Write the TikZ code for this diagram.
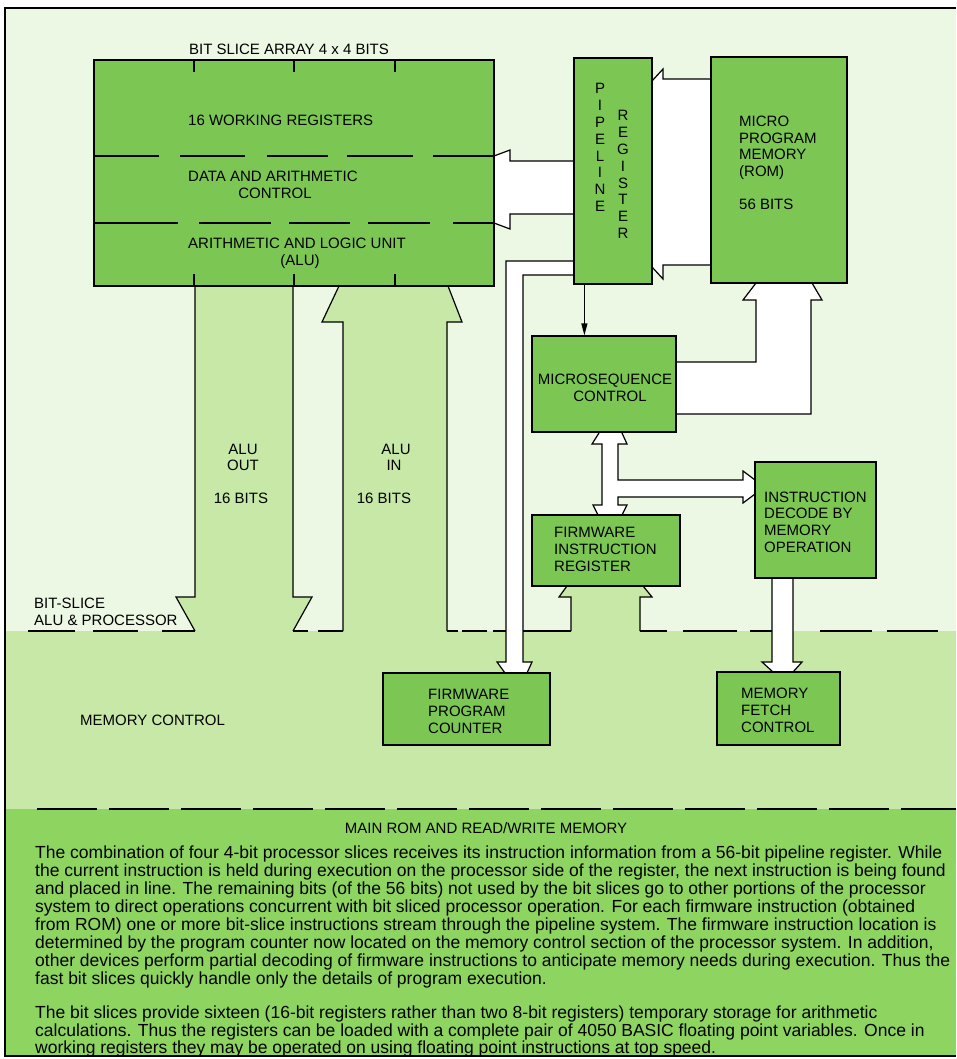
\documentclass[tikz,border=0pt]{standalone}
\usepackage{fontspec}
\setmainfont{Liberation Sans}
\usetikzlibrary{arrows.meta}
\definecolor{topc}{RGB}{237,248,228}
\definecolor{midc}{RGB}{199,232,166}
\definecolor{botc}{RGB}{142,212,96}
\definecolor{boxc}{RGB}{124,199,84}
\begin{document}
\begin{tikzpicture}[x=1pt,y=-1pt,
  box/.style={draw=black,fill=boxc,line width=1.2pt,inner sep=0pt},
  lbl/.style={font=\fontsize{15}{17}\selectfont,inner sep=0pt,anchor=base},
  lbll/.style={font=\fontsize{15}{17}\selectfont,inner sep=0pt,anchor=base west},
  body/.style={font=\fontsize{17.5}{18}\selectfont,inner sep=0pt,anchor=base west},
  ol/.style={line width=1.2pt,line join=miter},
  dl/.style={line width=1.3pt},
  wa/.style={fill=white},
  ma/.style={fill=midc}]
\useasboundingbox (0,0) rectangle (956,1059);
\fill[white] (0,0) rectangle (956,1059);
\fill[topc] (5,8) rectangle (956,631);
\fill[midc] (5,631) rectangle (956,809);
\fill[botc] (5,809) rectangle (956,1056);

% medium-filled block arrows
\fill[ma] (195,286) -- (293,286) -- (293,597) -- (312,597) -- (293,631) -- (195,631) -- (176,597) -- (195,597) -- cycle;
\fill[ma] (343,631) -- (447,631) -- (447,322) -- (462,322) -- (448,286) -- (339,286) -- (322,322) -- (343,322) -- cycle;
\fill[ma] (571,631) -- (571,597) -- (559,597) -- (567,586) -- (643,586) -- (652,597) -- (640,597) -- (640,631) -- cycle;

% white block arrows
\fill[wa] (711,79) -- (663,79) -- (663,69) -- (652,81) -- (652,267) -- (663,279) -- (663,265) -- (711,265) -- cycle;
\fill[wa] (574,161) -- (510,161) -- (510,150) -- (494,156) -- (494,223) -- (510,229) -- (510,214) -- (574,214) -- cycle;
\fill[wa] (574,261) -- (506,261) -- (506,662) -- (497,662) -- (505,673) -- (527,673) -- (532,662) -- (523,662) -- (523,275) -- (574,275) -- cycle;
\fill[wa] (676,362) -- (756,362) -- (756,300) -- (743,300) -- (756,283) -- (812,283) -- (822,300) -- (811,300) -- (811,414) -- (676,414) -- cycle;
\fill[wa] (599,433) -- (622,433) -- (627,444) -- (618,444) -- (618,480) -- (743,480) -- (743,471) -- (755,480) -- (755,494) -- (743,503) -- (743,497) -- (618,497) -- (618,505) -- (627,505) -- (622,515) -- (598,515) -- (593,505) -- (602,505) -- (602,444) -- (592,444) -- cycle;
\fill[wa] (772,578) -- (772,662) -- (762,662) -- (773,672) -- (793,672) -- (802,662) -- (793,662) -- (793,578) -- cycle;

% boxes
\node[box,minimum width=400pt,minimum height=226pt] (bsa) at (294,173) {};
\node[box,minimum width=78pt,minimum height=226pt] (pipe) at (613,171) {};
\node[box,minimum width=136pt,minimum height=226pt] (rom) at (779,170) {};
\node[box,minimum width=144pt,minimum height=96pt] (ms) at (604,384) {};
\node[box,minimum width=148pt,minimum height=71pt] (fir) at (606,550.5) {};
\node[box,minimum width=121pt,minimum height=116pt] (idm) at (815.5,520) {};
\node[box,minimum width=167pt,minimum height=72pt] (fpc) at (466.5,709) {};
\node[box,minimum width=123pt,minimum height=73pt] (mfc) at (778.5,708.5) {};

% bit slice array internals
\foreach \x in {194,294,395} {\draw[ol] (\x,60) -- (\x,72); \draw[ol] (\x,286) -- (\x,274);}
\foreach \a/\b in {94/159,180/245,267/328,347/413,433/494} \draw[dl] (\a,156) -- (\b,156);
\foreach \a/\b in {94/178,199/271,289/350,368/430,453/494} \draw[dl] (\a,223) -- (\b,223);

% outlines of block arrows
\draw[ol] (195,286) -- (195,597) -- (176,597) -- (195,631);
\draw[ol] (293,286) -- (293,597) -- (312,597) -- (293,631);
\draw[ol] (343,631) -- (343,322) -- (322,322) -- (339,286);
\draw[ol] (447,631) -- (447,322) -- (462,322) -- (448,286);
\draw[ol] (571,631) -- (571,597) -- (559,597) -- (567,586);
\draw[ol] (640,631) -- (640,597) -- (652,597) -- (643,586);
\draw[ol] (711,79) -- (663,79) -- (663,69) -- (652,81);
\draw[ol] (711,265) -- (663,265) -- (663,279) -- (652,267);
\draw[ol] (574,161) -- (510,161) -- (510,150) -- (494,156);
\draw[ol] (574,214) -- (510,214) -- (510,229) -- (494,223);
\draw[ol] (574,261) -- (506,261) -- (506,662) -- (497,662) -- (505,673);
\draw[ol] (574,275) -- (523,275) -- (523,662) -- (532,662) -- (527,673);
\draw[ol] (676,362) -- (756,362) -- (756,300) -- (743,300) -- (756,283);
\draw[ol] (676,414) -- (811,414) -- (811,300) -- (822,300) -- (812,283);
\draw[ol] (599,433) -- (592,444) -- (602,444) -- (602,505) -- (593,505) -- (598,515);
\draw[ol] (622,433) -- (627,444) -- (618,444) -- (618,480) -- (743,480) -- (743,471) -- (755,480);
\draw[ol] (755,494) -- (743,503) -- (743,497) -- (618,497) -- (618,505) -- (627,505) -- (622,515);
\draw[ol] (772,578) -- (772,662) -- (762,662) -- (773,672);
\draw[ol] (793,578) -- (793,662) -- (802,662) -- (793,672);

% thin arrow pipeline -> microsequence
\draw[line width=1.2pt,-{Triangle[length=12pt,width=6pt]}] (pipe.south west) ++(11,0) coordinate (pa) -- (pa |- ms.north);

% boundary dashes
\foreach \a/\b in {28/75,93/138,162/195,293/308,318/343,447/458,462/487,493/506,523/571,640/667,683/737,750/772,820/872,887/938} \draw[dl] (\a,631) -- (\b,631);
\draw[dl,dash pattern=on 60pt off 12pt] (37,809) -- (956,809);

% frame
\draw[line width=1.6pt] (956,8) -- (5,8) -- (5,1056) -- (956,1056);

% labels
\node[lbl] at (289,54.5) {BIT SLICE ARRAY 4 x 4 BITS};
\node[lbll] at (188,125.5) {16 WORKING REGISTERS};
\node[lbll] at (188,181.5) {DATA AND ARITHMETIC};
\node[lbl] at (275,198.5) {CONTROL};
\node[lbll] at (188,248.5) {ARITHMETIC AND LOGIC UNIT};
\node[lbl] at (300,265.5) {(ALU)};
\foreach \c [count=\i from 0] in {P,I,P,E,L,I,N,E} \node[lbl] at (600,{93.5+16.9*\i}) {\c};
\foreach \c [count=\i from 0] in {R,E,G,I,S,T,E,R} \node[lbl] at (623,{120.5+16.9*\i}) {\c};
\node[lbll] at (739,126.5) {MICRO};
\node[lbll] at (739,143.2) {PROGRAM};
\node[lbll] at (739,159.9) {MEMORY};
\node[lbll] at (739,176.6) {(ROM)};
\node[lbll] at (739,209.5) {56 BITS};
\node[lbl] at (605,384.5) {MICROSEQUENCE};
\node[lbl] at (610,401.5) {CONTROL};
\node[lbll] at (554,537.5) {FIRMWARE};
\node[lbll] at (554,554.5) {INSTRUCTION};
\node[lbll] at (554,571.5) {REGISTER};
\node[lbll] at (764,502.5) {INSTRUCTION};
\node[lbll] at (764,518.5) {DECODE BY};
\node[lbll] at (764,535.5) {MEMORY};
\node[lbll] at (764,552.5) {OPERATION};
\node[lbll] at (428,699.5) {FIRMWARE};
\node[lbll] at (428,716.5) {PROGRAM};
\node[lbll] at (428,733.5) {COUNTER};
\node[lbll] at (741,698.5) {MEMORY};
\node[lbll] at (741,715.5) {FETCH};
\node[lbll] at (741,732.5) {CONTROL};
\node[lbll] at (80,725.5) {MEMORY CONTROL};
\node[lbl] at (243,454.5) {ALU};
\node[lbl] at (243,470.5) {OUT};
\node[lbl] at (241,503.5) {16 BITS};
\node[lbl] at (396,454.5) {ALU};
\node[lbl] at (394,470.5) {IN};
\node[lbl] at (384,503.5) {16 BITS};
\node[lbll] at (34,608.5) {BIT-SLICE};
\node[lbll] at (34,625.5) {ALU \& PROCESSOR};
\node[lbl] at (486,833.5) {MAIN ROM AND READ/WRITE MEMORY};

% body text
\node[body] at (35,858) {The combination of four 4-bit processor slices receives its instruction information from a 56-bit pipeline register. While};
\node[body] at (35,876) {the current instruction is held during execution on the processor side of the register, the next instruction is being found};
\node[body] at (35,894) {and placed in line. The remaining bits (of the 56 bits) not used by the bit slices go to other portions of the processor};
\node[body] at (35,912) {system to direct operations concurrent with bit sliced processor operation. For each firmware instruction (obtained};
\node[body] at (35,930) {from ROM) one or more bit-slice instructions stream through the pipeline system. The firmware instruction location is};
\node[body] at (35,948) {determined by the program counter now located on the memory control section of the processor system. In addition,};
\node[body] at (35,966) {other devices perform partial decoding of firmware instructions to anticipate memory needs during execution. Thus the};
\node[body] at (35,984) {fast bit slices quickly handle only the details of program execution.};
\node[body] at (35,1018.5) {The bit slices provide sixteen (16-bit registers rather than two 8-bit registers) temporary storage for arithmetic};
\node[body] at (35,1036) {calculations. Thus the registers can be loaded with a complete pair of 4050 BASIC floating point variables. Once in};
\node[body] at (35,1053) {working registers they may be operated on using floating point instructions at top speed.};
\end{tikzpicture}
\end{document}
